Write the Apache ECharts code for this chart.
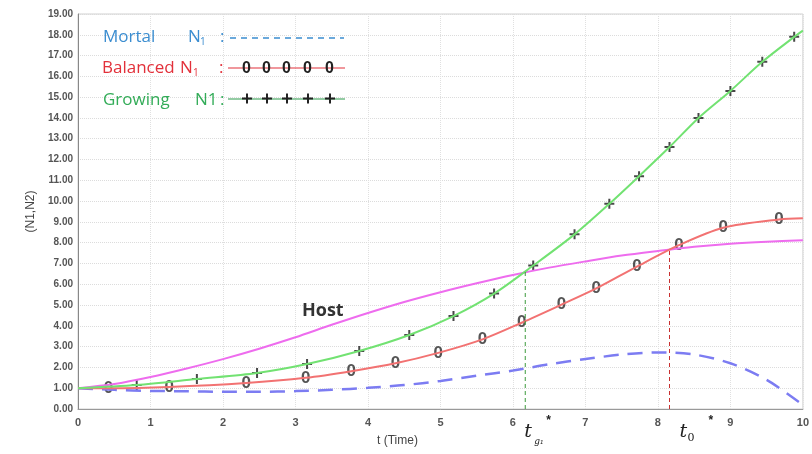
<!DOCTYPE html>
<html>
<head>
<meta charset="utf-8">
<title>N1 N2</title>
<script src="https://cdn.jsdelivr.net/npm/echarts@6/dist/echarts.min.js"></script>
<style>
  html, body { margin: 0; padding: 0; background: #fff; }
  #chart { width: 812px; height: 454px; }
</style>
</head>
<body>
<div id="chart"></div>
<script>
// values, [t, N]
var hostData = [[0,1],[0.5,1.2],[1,1.54],[1.5,1.95],[2,2.4],[2.5,2.9],[3,3.45],[3.5,4.05],[4,4.62],[4.5,5.15],[5,5.62],[5.5,6.05],[6,6.45],[6.5,6.8],[7,7.1],[7.5,7.38],[8,7.6],[8.5,7.8],[9,7.95],[9.5,8.05],[10,8.12]];
var mortalData = [[0,1],[0.5,0.92],[1,0.87],[1.5,0.85],[2,0.83],[2.5,0.83],[3,0.86],[3.5,0.92],[4,1.02],[4.5,1.15],[5,1.35],[5.5,1.6],[6,1.85],[6.5,2.15],[7,2.4],[7.5,2.62],[8,2.72],[8.5,2.62],[9,2.2],[9.5,1.4],[10,0.2]];
var balancedData = [[0,1],[0.42,1.0],[1.26,1.06],[2.32,1.25],[3.14,1.5],[3.77,1.82],[4.38,2.2],[4.97,2.7],[5.58,3.35],[6.12,4.15],[6.67,5.02],[7.15,5.8],[7.71,6.85],[8.29,7.88],[8.9,8.72],[9.67,9.12],[10,9.18]];
var growingData = [[0,1],[0.81,1.15],[1.64,1.44],[2.47,1.73],[3.16,2.16],[3.88,2.79],[4.57,3.56],[5.18,4.47],[5.74,5.55],[6.28,6.9],[6.85,8.4],[7.33,9.87],[7.74,11.2],[8.16,12.6],[8.56,14.0],[9.0,15.3],[9.44,16.7],[9.88,17.9],[10,18.2]];
var tg1 = [[6.17,0],[6.17,6.6]];
var t0 = [[8.16,0],[8.16,7.66]];
var hostLabelAt = [3.38, 4.76];
var yTicks = [0, 19, 1];
var xTicks = [0, 10, 1];

var plusPath = 'path://M4,0h2v4h4v2h-4v4h-2v-4h-4v-2h4z';
var chart = echarts.init(document.getElementById('chart'));

var option = {
  animation: false,
  grid: { left: 78, right: 4, top: 14, bottom: 45, show: true, borderColor: '#d0d0d0', borderWidth: 1 },
  xAxis: {
    type: 'value', min: xTicks[0], max: xTicks[1], interval: xTicks[2],
    name: 't (Time)', nameLocation: 'middle', nameGap: 26,
    nameTextStyle: { fontFamily: 'Liberation Sans', fontSize: 12, color: '#444', padding: [0, 86, 0, 0] },
    axisLine: { lineStyle: { color: '#999' } },
    axisTick: { show: false },
    axisLabel: { margin: 8, fontFamily: 'Liberation Sans', fontSize: 11, color: '#555', fontWeight: 'bold' },
    splitLine: { lineStyle: { color: '#e0e0e0', type: 'dotted' } }
  },
  yAxis: {
    type: 'value', min: yTicks[0], max: yTicks[1], interval: yTicks[2],
    name: '(N1,N2)', nameLocation: 'middle', nameGap: 38, nameRotate: 90,
    nameTextStyle: { fontFamily: 'Liberation Sans', fontSize: 12, color: '#444' },
    axisLine: { show: true, lineStyle: { color: '#888' } },
    axisTick: { show: false },
    axisLabel: { margin: 5, fontFamily: 'Liberation Sans', fontSize: 10, color: '#555', fontWeight: 'bold',
      formatter: function (v) { return v.toFixed(2); } },
    splitLine: { lineStyle: { color: '#dcdcdc', type: 'dotted' } }
  },
  series: [
    { name: 'Host', type: 'line', data: hostData, smooth: 0.3, showSymbol: false,
      lineStyle: { color: '#ee6cee', width: 2 } },
    { name: 'Mortal', type: 'line', data: mortalData, smooth: 0.3, showSymbol: false,
      lineStyle: { color: '#7c7cf2', width: 2.5, type: [15, 9] } },
    { name: 'Balanced', type: 'line', data: balancedData, smooth: 0.3, showSymbol: false,
      lineStyle: { color: '#f27272', width: 2 } },
    { name: 'Growing', type: 'line', data: growingData, smooth: 0.3, showSymbol: false,
      lineStyle: { color: '#72e272', width: 2 } },
    { name: 'BalancedMarks', type: 'scatter', data: balancedData.slice(1, -1),
      symbol: 'circle', symbolSize: 2, itemStyle: { color: 'rgba(0,0,0,0)' },
      label: { show: true, position: 'inside', formatter: '0', fontFamily: 'Liberation Sans',
        fontSize: 17, fontWeight: 'bold', color: '#2a2a2a', textBorderWidth: 0 } },
    { name: 'GrowingMarks', type: 'scatter', data: growingData.slice(1, -1),
      symbol: plusPath, symbolSize: 10, itemStyle: { color: '#1a1a1a' } },
    { name: 'tg1', type: 'line', data: tg1, showSymbol: false,
      lineStyle: { color: '#3c9a3c', width: 1, type: [4, 3] } },
    { name: 't0', type: 'line', data: t0, showSymbol: false,
      lineStyle: { color: '#c83030', width: 1, type: [4, 3] } }
  ]
};
chart.setOption(option);

// annotations anchored to the axes
var pG = chart.convertToPixel({ gridIndex: 0 }, [tg1[0][0], 0]);
var p0 = chart.convertToPixel({ gridIndex: 0 }, [t0[0][0], 0]);
var pHost = chart.convertToPixel({ gridIndex: 0 }, hostLabelAt);

var legendFont = 'Open Sans';
function txt(x, y, s, color, size) {
  return { type: 'text', left: x, top: y, z: 100,
    style: { text: s, fill: color, font: (size || 17) + 'px "' + legendFont + '"' } };
}
function seg(x1, y1, x2, y2, color, w, dash) {
  return { type: 'line', shape: { x1: x1, y1: y1, x2: x2, y2: y2 }, z: 100,
    style: { stroke: color, lineWidth: w || 1, lineDash: dash || null } };
}
var blue = '#3b8dd0', red = '#e2303a', green = '#33ac58';
var gfx = [
  txt(103, 29, 'Mortal', blue), txt(188, 29, 'N', blue), txt(200, 37, '1', blue, 10), txt(220, 29, ':', blue),
  seg(230, 38, 344, 38, blue, 1.3, [6, 5]),
  txt(102, 60, 'Balanced', red), txt(180, 60, 'N', red), txt(193, 68, '1', red, 10), txt(219, 60, ':', red),
  seg(228, 68, 345, 68, red, 1.2),
  txt(103, 92, 'Growing', green), txt(195, 92, 'N1', green), txt(220, 92, ':', green),
  seg(228, 99, 345, 99, '#2a9a4a', 1.2)
];
[247, 267, 287, 308, 330].forEach(function (x) {
  gfx.push({ type: 'text', left: x - 5, top: 61, z: 101,
    style: { text: '0', fill: '#222', font: 'bold 16px "Liberation Sans"' } });
  gfx.push(seg(x - 5, 98.5, x + 5, 98.5, '#222', 2));
  gfx.push(seg(x, 93.5, x, 103.5, '#222', 2));
});
gfx.push({ type: 'text', left: pHost[0] - 21, top: pHost[1] - 8, z: 100,
  style: { text: 'Host', fill: '#333', font: 'bold 18px "Open Sans"' } });
// t_g1 * and t_0 *
gfx.push({ type: 'text', left: pG[0] - 1, top: pG[1] + 14, z: 100,
  style: { text: 't', fill: '#222', font: 'italic 19px "DejaVu Serif"' } });
gfx.push({ type: 'text', left: pG[0] + 9, top: pG[1] + 28, z: 100,
  style: { text: 'g₁', fill: '#222', font: 'italic 9px "DejaVu Serif"' } });
gfx.push({ type: 'text', left: pG[0] + 21, top: pG[1] + 6, z: 100,
  style: { text: '*', fill: '#222', font: 'bold 12px "Liberation Sans"' } });
gfx.push({ type: 'text', left: p0[0] + 10, top: p0[1] + 14, z: 100,
  style: { text: 't', fill: '#222', font: 'italic 19px "DejaVu Serif"' } });
gfx.push({ type: 'text', left: p0[0] + 18, top: p0[1] + 24, z: 100,
  style: { text: '0', fill: '#222', font: '11px "DejaVu Serif"' } });
gfx.push({ type: 'text', left: p0[0] + 39, top: p0[1] + 6, z: 100,
  style: { text: '*', fill: '#222', font: 'bold 12px "Liberation Sans"' } });
chart.setOption({ graphic: gfx });
</script>
</body>
</html>
